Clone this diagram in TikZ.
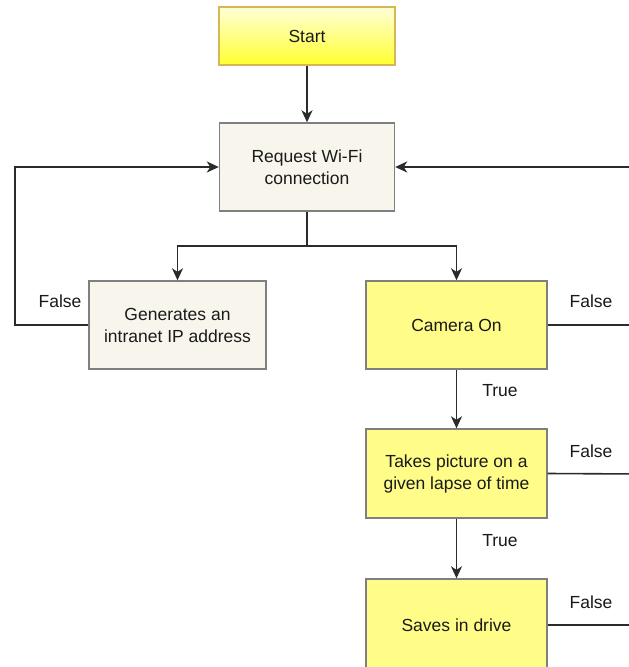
\documentclass[tikz,border=0pt]{standalone}
\usepackage{fontspec}
\setmainfont{Liberation Sans}
\usetikzlibrary{arrows.meta}
\definecolor{linec}{HTML}{2B2B2B}
\definecolor{boxborder}{HTML}{7F7F7F}
\definecolor{startborder}{HTML}{D6B656}
\definecolor{starttop}{HTML}{FFFFD8}
\definecolor{startbot}{HTML}{FFFF30}
\definecolor{reqfill}{HTML}{F8F5EC}
\definecolor{yelfill}{HTML}{FFFC88}
\definecolor{txt}{HTML}{1A1A1A}
\begin{document}
\begin{tikzpicture}[x=1pt,y=-1pt,
  every node/.style={font=\fontsize{17.5}{22}\selectfont, text=txt},
  boxbase/.style={rectangle, draw=boxborder, line width=1.4pt, inner sep=0pt, align=center},
  startbox/.style={boxbase, draw=startborder, top color=starttop, bottom color=startbot, minimum width=176pt, minimum height=58pt},
  graybox/.style={boxbase, fill=reqfill},
  yelbox/.style={boxbase, fill=yelfill, minimum width=181pt},
  conn/.style={draw=linec, line width=1.6pt},
  arr/.style={conn, -{Stealth[length=12pt,width=11pt,inset=3.5pt]}},
  lbl/.style={inner sep=0pt}
]
\useasboundingbox (0,0) rectangle (629,667);
\clip (0,0) rectangle (629,667);
\fill[white] (0,0) rectangle (629,667);

\node[startbox] (start) at (307,36) {Start};
\node[graybox, minimum width=175pt, minimum height=88pt] (req) at (307,167) {Request Wi-Fi\\connection};
\node[graybox, minimum width=177pt, minimum height=88pt] (gen) at (177.5,325) {Generates an\\intranet IP address};
\node[yelbox, minimum height=88pt] (cam) at (456.5,325) {Camera On};
\node[yelbox, minimum height=89pt] (take) at (456.5,473.5) {Takes picture on a\\given lapse of time};
\node[yelbox, minimum height=92pt] (save) at (456.5,625) {Saves in drive};

\coordinate (split) at (307,246);
\coordinate (lc) at (15,325);
\coordinate (r0) at (640,167);
\coordinate (r1) at (640,325);
\coordinate (r2) at (640,474);
\coordinate (r3) at (640,625);

\draw[arr] (start) -- (req);
\draw[conn] (req.south) -- (split);
\draw[arr] (split) -| (gen.north);
\draw[arr] (split) -| (cam.north);
\draw[arr] (gen.west) -- (lc) |- (req.west);
\draw[arr] (r0) -- (req.east);
\draw[conn] (cam.east) -- (r1);
\draw[conn] (take.east) -- (r2);
\draw[conn] (save.east) -- (r3);
\draw[arr] (cam) -- (take);
\draw[arr] (take) -- (save);

\node[lbl] (f0) at (60,301) {False};
\node[lbl] (f1) at (591,301) {False};
\node[lbl] (f2) at (591,451) {False};
\node[lbl] (f3) at (591,602) {False};
\node[lbl] (t1) at (500,391) {True};
\node[lbl] (t2) at (500,541) {True};
\end{tikzpicture}
\end{document}
